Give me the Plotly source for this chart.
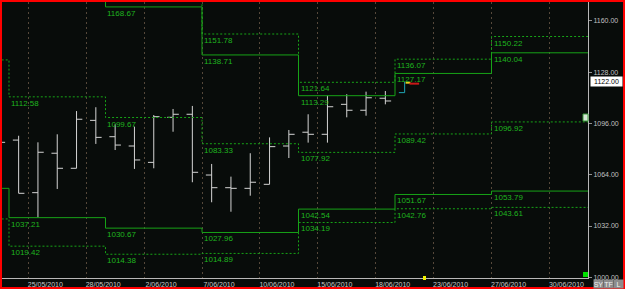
import plotly.graph_objects as go

# ---------------- data ----------------
# daily bars: slot index (one slot per trading day, slot 0 = week of 24/05/2010)
bar_slots = list(range(-1, 20))
bar_open = [1084.0, 1085.6, 1052.8, 1077.4, 1068.0, 1097.9, 1087.7, 1081.9, 1071.7, 1099.8, 1101.7,
            1063.8, 1055.9, 1055.5, 1058.0, 1081.9, 1090.5, 1089.2, 1107.9, 1104.2, 1111.7]
bar_high = [1090.0, 1088.3, 1084.2, 1089.2, 1103.7, 1106.1, 1095.4, 1094.0, 1101.2, 1105.0, 1106.9,
            1070.7, 1062.8, 1077.4, 1087.3, 1091.9, 1101.7, 1113.3, 1114.2, 1115.8, 1116.2]
bar_low = [1080.0, 1052.4, 1037.2, 1055.1, 1068.0, 1083.2, 1079.4, 1067.6, 1068.0, 1090.8, 1059.3,
           1046.8, 1040.9, 1050.9, 1058.0, 1074.4, 1084.0, 1084.0, 1099.8, 1100.8, 1107.9]
bar_close = [1084.2, 1052.4, 1078.0, 1068.0, 1098.6, 1087.3, 1082.5, 1073.2, 1100.2, 1101.7, 1065.5,
             1055.9, 1055.5, 1059.3, 1081.5, 1089.2, 1089.2, 1106.4, 1104.2, 1112.0, 1110.0]

# current (live) bar
live_slot = 20
live_open, live_high, live_low, live_close = 1115.2, 1122.0, 1115.2, 1122.0
last_price = 1122.00

# weekly pivot levels (week start slots; last week ends at slot 30)
week_starts = [-1, 0, 5, 10, 15, 20, 25]
week_end = 30
pivot_r2 = [1250.0, 1240.0, 1237.0, 1151.78, 1121.64, 1136.07, 1150.22]
pivot_r1 = [1215.0, 1187.95, 1168.67, 1138.71, 1113.29, 1127.17, 1140.04]
pivot_p = [1135.6, 1112.58, 1099.67, 1083.33, 1077.92, 1089.42, 1096.92]
pivot_s1 = [1055.5, 1037.21, 1030.67, 1027.96, 1042.54, 1051.67, 1053.79]
pivot_s2 = [1036.4, 1019.42, 1014.38, 1014.89, 1034.19, 1042.76, 1043.61]

# date axis
date_slots = [1, 4, 7, 10, 13, 16, 19, 22, 25, 28]
date_labels = ["25/05/2010", "28/05/2010", "2/06/2010", "7/06/2010", "10/06/2010",
               "15/06/2010", "18/06/2010", "23/06/2010", "27/06/2010", "30/06/2010"]

price_ticks = [1000, 1032, 1064, 1096, 1128, 1160]

# ---------------- styling ----------------
BG = "#080c0a"
GREEN = "#17a317"
LABEL_GREEN = "#1fb41f"
BAR = "#d4d4d4"
X_RANGE = [-0.466, 30.0]
Y_RANGE = [999.56, 1171.74]
FONT = "Liberation Sans, Arial, sans-serif"

fig = go.Figure()

levels = [(pivot_r2, "2px,2px"), (pivot_r1, "solid"), (pivot_p, "2px,2px"),
          (pivot_s1, "solid"), (pivot_s2, "2px,2px")]
step_x = week_starts + [week_end]
for vals, dash in levels:
    fig.add_trace(go.Scatter(
        x=step_x, y=vals + [vals[-1]], mode="lines",
        line=dict(shape="hv", color=GREEN, width=1, dash=dash),
        hoverinfo="skip", showlegend=False))

# OHLC bars
fig.add_trace(go.Ohlc(
    x=[s + 0.5 for s in bar_slots], open=bar_open, high=bar_high, low=bar_low, close=bar_close,
    increasing=dict(line=dict(color=BAR, width=1)),
    decreasing=dict(line=dict(color=BAR, width=1)),
    tickwidth=0.3, showlegend=False, hoverinfo="skip"))

# live bar (cyan)
lx = live_slot + 0.5
fig.add_trace(go.Scatter(
    x=[lx, lx, None, lx - 0.3, lx], y=[live_low, live_high, None, live_open, live_open],
    mode="lines", line=dict(color="#1ea5b4", width=1), hoverinfo="skip", showlegend=False))
# last price marker
fig.add_trace(go.Scatter(
    x=[lx + 0.05, lx + 0.3], y=[last_price - 0.6, last_price - 0.6], mode="lines",
    line=dict(color="#e8d020", width=2), hoverinfo="skip", showlegend=False))
fig.add_trace(go.Scatter(
    x=[lx + 0.25, lx + 0.75], y=[last_price - 1.2, last_price - 1.2], mode="lines",
    line=dict(color="#c81818", width=2), hoverinfo="skip", showlegend=False))

# level labels
annotations = []
for vals, _ in levels:
    for ws, v in zip(week_starts[1:], vals[1:]):
        if Y_RANGE[0] < v < Y_RANGE[1] - 3:
            annotations.append(dict(
                x=ws, y=v, xref="x", yref="y", text=f"{v:.2f}", showarrow=False,
                xanchor="left", yanchor="top", xshift=1, yshift=-1,
                font=dict(family=FONT, size=8, color=LABEL_GREEN), borderpad=0))

# current price box
annotations.append(dict(
    x=1, y=last_price, xref="paper", yref="y", text=f"{last_price:.2f}", showarrow=False,
    xanchor="left", yanchor="middle", xshift=2, bgcolor="#ffffff", width=31, height=9,
    borderpad=0, font=dict(family=FONT, size=7, color="#000000")))

# bottom-right buttons
for txt, x0 in [("SY", 592.5), ("TF", 602.5), ("L", 612.5)]:
    annotations.append(dict(
        x=x0 / 588, y=(278 - 284) / 276, xref="paper", yref="paper", text=txt, showarrow=False,
        xanchor="left", yanchor="middle", bgcolor="#8c8c8c", width=9, height=8, borderpad=0,
        font=dict(family=FONT, size=7, color="#f0f0f0")))

shapes = [
    # red frame
    dict(type="rect", xref="paper", yref="paper", x0=1 / 588, x1=624 / 588,
         y0=(278 - 288) / 276, y1=(278 - 1) / 276, line=dict(color="#ff0000", width=2),
         fillcolor="rgba(0,0,0,0)", layer="above"),
    # green square bottom right of plot
    dict(type="rect", xref="paper", yref="paper", x0=583 / 588, x1=588 / 588,
         y0=1 / 276, y1=6 / 276, line=dict(width=0), fillcolor="#00e000"),
    # yellow marker on time axis
    dict(type="rect", xref="paper", yref="paper", x0=423 / 588, x1=426 / 588,
         y0=-2 / 276, y1=2 / 276, line=dict(width=0), fillcolor="#f0f000"),
    # small icon at right edge
    dict(type="rect", xref="paper", yref="paper", x0=583 / 588, x1=588 / 588,
         y0=(278 - 121) / 276, y1=(278 - 114) / 276, line=dict(color="#3a9a3a", width=1),
         fillcolor="#d8e8d8"),
]

fig.update_layout(
    width=625, height=289, autosize=False,
    margin=dict(l=0, r=37, t=2, b=11),
    paper_bgcolor=BG, plot_bgcolor=BG,
    annotations=annotations, shapes=shapes,
    xaxis=dict(
        range=X_RANGE, tickmode="array", tickvals=date_slots, ticktext=date_labels,
        showgrid=True, gridcolor="#55483a", griddash="2px,3px", gridwidth=1,
        zeroline=False, showline=True, linecolor="#b8b8b8", linewidth=1,
        ticks="", tickfont=dict(family=FONT, size=7, color="#c8c8c8"),
        ticklabelshift=17, ticklabelstandoff=0,
        rangeslider=dict(visible=False), fixedrange=True),
    yaxis=dict(
        range=Y_RANGE, side="right", tickmode="array", tickvals=price_ticks,
        ticktext=[f"{t:.2f}" for t in price_ticks], showgrid=False, zeroline=False,
        showline=True, linecolor="#b8b8b8", linewidth=1, ticks="outside", ticklen=3,
        tickcolor="#909090", tickfont=dict(family=FONT, size=7, color="#c0c0c0"),
        fixedrange=True),
    showlegend=False,
)

fig.write_html("out.html")
